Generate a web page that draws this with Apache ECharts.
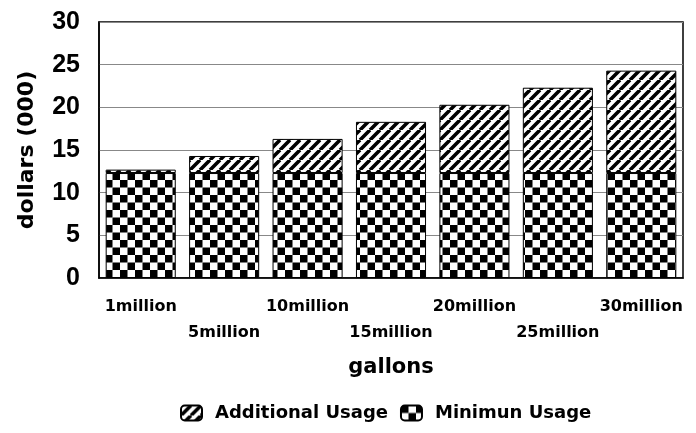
<!DOCTYPE html>
<html><head><meta charset="utf-8">
<script src="https://cdn.jsdelivr.net/npm/echarts@6/dist/echarts.min.js"></script>
<style>html,body{margin:0;padding:0;background:#fff}#c{width:696px;height:433px}</style>
</head><body><div id="c"></div>
<script>
const categories = ['1million','5million','10million','15million','20million','25million','30million'];
const minimumUsage = [12.3, 12.3, 12.3, 12.3, 12.3, 12.3, 12.3];
const additionalUsage = [0.4, 2.0, 4.0, 6.0, 8.0, 10.0, 12.0];

function checker() {
  const c = document.createElement('canvas'); c.width = 15; c.height = 15;
  const g = c.getContext('2d');
  g.fillStyle = '#fff'; g.fillRect(0,0,15,15);
  g.fillStyle = '#000'; g.fillRect(0,0,7.5,7.5); g.fillRect(7.5,7.5,7.5,7.5);
  return c;
}
function stripes() {
  const s = 10;
  const c = document.createElement('canvas'); c.width = s; c.height = s;
  const g = c.getContext('2d');
  g.fillStyle = '#fff'; g.fillRect(0,0,s,s);
  g.strokeStyle = '#000'; g.lineWidth = 3.6;
  g.beginPath();
  for (let k = -1; k <= 1; k++) {
    g.moveTo(k*s, s); g.lineTo(k*s + s, 0);
  }
  g.stroke();
  return c;
}
const WIDE = '"DejaVu Sans", sans-serif';
const ARIAL = '"Liberation Sans", Arial, sans-serif';
const chart = echarts.init(document.getElementById('c'));
chart.setOption({
  animation: false,
  grid: { left: 99, right: 13, top: 22, bottom: 155, show: true, borderColor: '#000', borderWidth: 1.5 },
  xAxis: {
    type: 'category', data: categories,
    name: 'gallons', nameLocation: 'middle', nameGap: 79,
    nameTextStyle: { fontFamily: WIDE, fontWeight: 'bold', fontSize: 21, color: '#000' },
    axisLine: { lineStyle: { color: '#000', width: 1.5 } },
    axisTick: { show: false },
    axisLabel: { interval: 0, margin: 16, fontFamily: WIDE, fontWeight: 'bold', fontSize: 16, color: '#000', lineHeight: 26,
      formatter: (v, i) => i % 2 ? '\n' + v : v }
  },
  yAxis: {
    type: 'value', min: 0, max: 30, interval: 5,
    name: 'dollars (000)', nameLocation: 'middle', nameGap: 61, nameRotate: 90,
    nameTextStyle: { fontFamily: WIDE, fontWeight: 'bold', fontSize: 22, color: '#000' },
    axisLine: { show: true, lineStyle: { color: '#000', width: 1.5 } },
    axisTick: { show: false },
    splitLine: { lineStyle: { color: '#888', width: 1 } },
    axisLabel: { margin: 19, fontFamily: ARIAL, fontWeight: 'bold', fontSize: 25, color: '#000' }
  },
  legend: {
    top: 404, left: 180, itemWidth: 21, itemHeight: 15, itemGap: 12, padding: 0,
    data: ['Additional Usage', 'Minimun Usage'],
    textStyle: { fontFamily: WIDE, fontWeight: 'bold', fontSize: 18, color: '#000', padding: [0, 0, 0, 8] }
  },
  series: [
    { name: 'Minimun Usage', type: 'bar', stack: 't', data: minimumUsage, barWidth: '84%',
      itemStyle: { color: { image: checker(), repetition: 'repeat' }, borderColor: '#000', borderWidth: 1 } },
    { name: 'Additional Usage', type: 'bar', stack: 't', data: additionalUsage, barWidth: '84%',
      itemStyle: { color: { image: stripes(), repetition: 'repeat' }, borderColor: '#000', borderWidth: 1 } }
  ]
});
</script></body></html>
